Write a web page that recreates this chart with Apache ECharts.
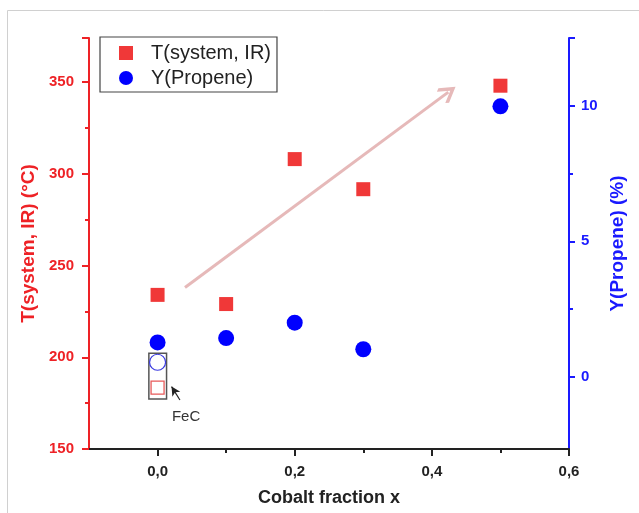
<!DOCTYPE html>
<html>
<head>
<meta charset="utf-8">
<script src="https://cdn.jsdelivr.net/npm/echarts@6/dist/echarts.min.js"></script>
<style>
html,body{margin:0;padding:0;background:#fff;}
#chart{width:639px;height:513px;}
</style>
</head>
<body>
<div id="chart"></div>
<script>
// ---- data ----
const cobaltX = [0, 0.1, 0.2, 0.3, 0.5];
const tSystem = [234, 229, 308, 291.6, 348];
const yPropene = [1.27, 1.43, 2.0, 1.02, 9.98];
const fecX = [0];
const fecT = [183.4];
const fecY = [0.54];
const xTickValues = [0, 0.2, 0.4, 0.6];
const xMinorValues = [0.1, 0.3, 0.5];
const tTickValues = [150, 200, 250, 300, 350];
const tMinorValues = [175, 225, 275, 325];
const yTickValues = [0, 5, 10];
const yMinorValues = [2.5, 7.5];
const tRange = [150, 374];
const yRange = [-2.66, 12.5];
const xRange = [-0.1, 0.6];
// annotation coordinates (data space)
const trendArrow = [[0.04, 238], [0.424, 344.5]];
const fecBox = [[-0.0127, 202.2], [0.0131, 177.3]];
const fecPointer = [[0.0326, 176.7], [0.0204, 184]];
const fecLabel = [0.0416, 167.4];

const RED = '#ee2226';
const BLUE = '#1a1aff';
const FONT = '"Liberation Sans", Arial, sans-serif';

const chart = echarts.init(document.getElementById('chart'), null, {renderer: 'canvas'});

function pairs(xs, ys) { return xs.map((x, i) => [x, ys[i]]); }

const option = {
  backgroundColor: '#fff',
  animation: false,
  textStyle: {fontFamily: FONT},
  graphic: [{
    type: 'rect', shape: {x: 7.5, y: 10.5, width: 700, height: 600},
    style: {fill: 'none', stroke: '#d0d0d0', lineWidth: 1}, silent: true, z: -10
  }],
  grid: {left: 89, right: 70, top: 38, bottom: 64},
  legend: {
    left: 100, top: 37, orient: 'vertical',
    padding: [6, 6, 4, 19],
    borderColor: '#444', borderWidth: 1.2,
    itemWidth: 14, itemHeight: 14, itemGap: 5,
    textStyle: {fontFamily: FONT, fontSize: 20, color: '#222', padding: [0, 0, 0, 13]},
    data: [{name: 'T(system, IR)', icon: 'rect'}, {name: 'Y(Propene)', icon: 'circle'}]
  },
  xAxis: [{
    type: 'value', min: xRange[0], max: xRange[1],
    name: 'Cobalt fraction x', nameLocation: 'middle', nameGap: 40,
    nameTextStyle: {fontFamily: FONT, fontSize: 18, fontWeight: 'bold', color: '#222'},
    axisLine: {show: true, onZero: false, lineStyle: {color: '#222', width: 2}},
    axisTick: {show: true, length: 7, lineStyle: {color: '#222', width: 2}, customValues: xTickValues},
    axisLabel: {customValues: xTickValues, margin: 15, fontFamily: FONT, fontSize: 15, fontWeight: 'bold', color: '#222',
      formatter: v => v.toFixed(1).replace('.', ',')},
    splitLine: {show: false}
  }, {
    type: 'value', min: xRange[0], max: xRange[1], position: 'bottom', offset: 0,
    axisLine: {show: false, onZero: false},
    axisTick: {show: true, length: 4, lineStyle: {color: '#222', width: 2}, customValues: xMinorValues},
    axisLabel: {show: false}, splitLine: {show: false}
  }],
  yAxis: [{
    type: 'value', min: tRange[0], max: tRange[1], position: 'left', offset: 0,
    name: 'T(system, IR) (°C)', nameLocation: 'middle', nameGap: 47, nameRotate: 90,
    nameTextStyle: {fontFamily: FONT, fontSize: 19, fontWeight: 'bold', color: RED},
    axisLine: {show: true, onZero: false, lineStyle: {color: RED, width: 2}},
    axisTick: {show: true, length: 7, lineStyle: {color: RED, width: 2}, customValues: tTickValues.concat([tRange[1]])},
    axisLabel: {customValues: tTickValues, margin: 15, fontFamily: FONT, fontSize: 15, fontWeight: 'bold', color: RED},
    splitLine: {show: false}
  }, {
    type: 'value', min: yRange[0], max: yRange[1], position: 'right', offset: 0,
    name: 'Y(Propene) (%)', nameLocation: 'middle', nameGap: 34, nameRotate: 90,
    nameTextStyle: {fontFamily: FONT, fontSize: 19, fontWeight: 'bold', color: BLUE},
    axisLine: {show: true, onZero: false, lineStyle: {color: BLUE, width: 2}},
    axisTick: {show: true, length: 6, lineStyle: {color: BLUE, width: 2}, customValues: yTickValues.concat([yRange[1]])},
    axisLabel: {customValues: yTickValues, margin: 12, fontFamily: FONT, fontSize: 15, fontWeight: 'bold', color: BLUE},
    splitLine: {show: false}
  }, {
    type: 'value', min: tRange[0], max: tRange[1], position: 'left', offset: 0,
    axisLine: {show: false, onZero: false},
    axisTick: {show: true, length: 4, lineStyle: {color: RED, width: 2}, customValues: tMinorValues},
    axisLabel: {show: false}, splitLine: {show: false}
  }, {
    type: 'value', min: yRange[0], max: yRange[1], position: 'right', offset: 0,
    axisLine: {show: false, onZero: false},
    axisTick: {show: true, length: 4, lineStyle: {color: BLUE, width: 2}, customValues: yMinorValues},
    axisLabel: {show: false}, splitLine: {show: false}
  }],
  series: [{
    name: 'T(system, IR)', type: 'scatter', xAxisIndex: 0, yAxisIndex: 0,
    symbol: 'rect', symbolSize: 14,
    itemStyle: {color: '#f03838', opacity: 1},
    data: pairs(cobaltX, tSystem),
    z: 3,
    markLine: {
      silent: true, animation: false,
      symbol: ['none', 'path://M0,0 L9,9 L7,11 L0,4 L-7,11 L-9,9 Z'], symbolSize: [18, 18],
      lineStyle: {color: '#e6b9b9', width: 3, type: 'solid'},
      label: {show: false},
      data: [[{coord: trendArrow[0]}, {coord: trendArrow[1]}]]
    }
  }, {
    name: 'Y(Propene)', type: 'scatter', xAxisIndex: 0, yAxisIndex: 1,
    symbol: 'circle', symbolSize: 16,
    itemStyle: {color: '#0000ff', opacity: 1},
    data: pairs(cobaltX, yPropene),
    z: 3
  }, {
    name: 'FeC T', type: 'scatter', xAxisIndex: 0, yAxisIndex: 0,
    symbol: 'rect', symbolSize: 13,
    itemStyle: {color: 'rgba(255,255,255,0)', borderColor: '#e85a5a', borderWidth: 1.3, opacity: 1},
    data: pairs(fecX, fecT),
    markArea: {
      silent: true,
      itemStyle: {color: 'rgba(0,0,0,0)', borderColor: '#555', borderWidth: 1.5},
      data: [[{coord: fecBox[0]}, {coord: fecBox[1]}]]
    },
    markLine: {
      silent: true, animation: false,
      symbol: ['none', 'arrow'], symbolSize: [7, 9],
      lineStyle: {color: '#222', width: 1.2, type: 'solid'},
      label: {show: false},
      data: [[{coord: fecPointer[0]}, {coord: fecPointer[1]}]]
    },
    markPoint: {
      silent: true, symbol: 'circle', symbolSize: 0,
      label: {show: true, position: 'inside', formatter: 'FeC', fontFamily: FONT, fontSize: 15, color: '#333'},
      data: [{coord: fecLabel}]
    }
  }, {
    name: 'FeC Y', type: 'scatter', xAxisIndex: 0, yAxisIndex: 1,
    symbol: 'circle', symbolSize: 16,
    itemStyle: {color: 'rgba(255,255,255,0)', borderColor: '#3a3ae0', borderWidth: 1.2, opacity: 1},
    data: pairs(fecX, fecY)
  }]
};
chart.setOption(option);
</script>
</body>
</html>
